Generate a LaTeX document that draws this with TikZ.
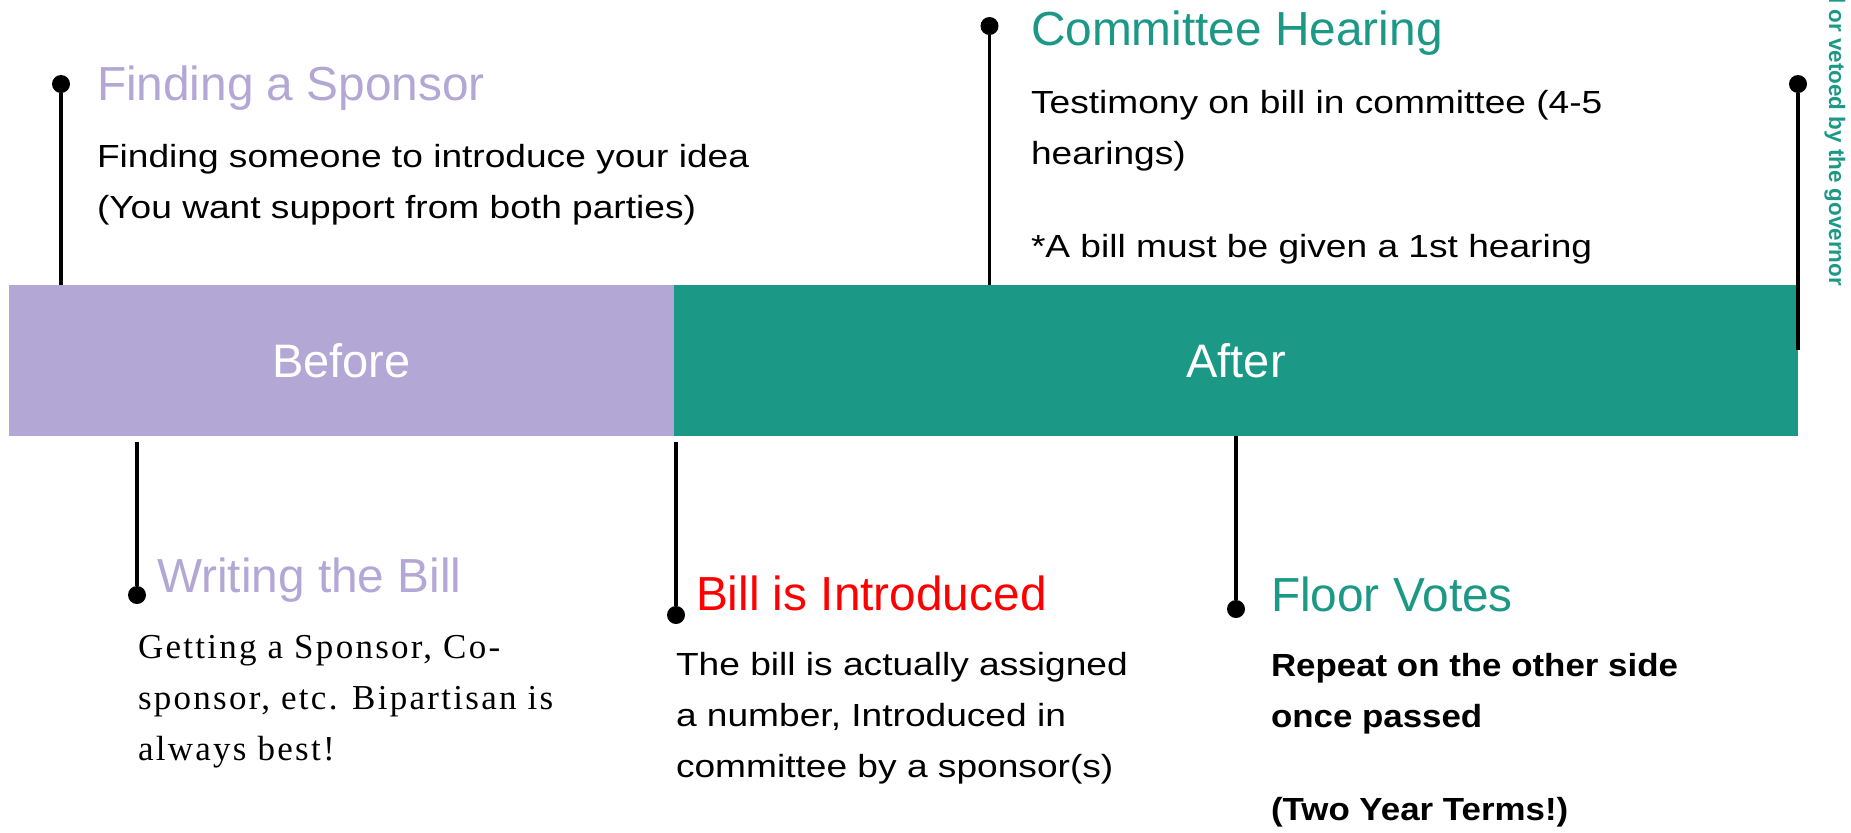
\documentclass[tikz,border=0pt]{standalone}
\usepackage{fontspec}
\setmainfont{Liberation Sans}
\newfontfamily\bodyfont[FakeStretch=1.16]{Liberation Sans}
\newfontfamily\votefont[FakeStretch=1.09]{Liberation Sans}
\newfontfamily\billfont[LetterSpace=6.5]{Liberation Serif}
\usetikzlibrary{positioning}
\definecolor{billlilac}{HTML}{B3A7D6}
\definecolor{billteal}{HTML}{1B9886}
\definecolor{billred}{HTML}{FF0000}
\tikzset{
  every node/.style={inner sep=0pt, outer sep=0pt},
  every path/.style={line width=1.6pt},
  tickdot/.style={circle, fill=black, minimum size=9pt},
  title/.style={anchor=base west, font=\fontsize{23.9}{28}\selectfont},
  body/.style={anchor=base west, font=\bodyfont\fontsize{16}{25.5}\selectfont},
  phase/.style={minimum height=75.5pt, text=white, font=\fontsize{23.5}{28}\selectfont}
}
\newcommand{\lines}[1]{\begin{tabular}[t]{@{}l@{}}#1\end{tabular}}

\begin{document}
\begin{tikzpicture}[x=0.5pt, y=-0.5pt]
  \useasboundingbox (0,0) rectangle (1851,832);
  % Bar
  \node (before) [phase, fill=billlilac, minimum width=332.5pt] at (341.5,360.5) {Before};
  \node (after) [phase, fill=billteal, minimum width=562pt] at (1236,360.5) {After};

  % Dots
  \node (sponsordot) [tickdot] at (61,84) {};
  \node (hearingdot) [tickdot] at (989.5,26) {};
  \node (governordot) [tickdot] at (1798,84) {};
  \node (writingdot) [tickdot] at (137,595) {};
  \node (introduceddot) [tickdot] at (676,615) {};
  \node (floordot) [tickdot] at (1236,609) {};
  \coordinate (governorend) at (1798,350);

  % Titles
  \node (sponsor) [title, text=billlilac] at (97,100) {Finding a Sponsor};
  \node (hearing) [title, text=billteal] at (1031,45) {Committee Hearing};
  \node (writing) [title, text=billlilac] at (157,592) {Writing the Bill};
  \node (introduced) [title, text=billred] at (696,610) {Bill is Introduced};
  \node (floor) [title, text=billteal] at (1271,611) {Floor Votes};
  \node (governor) [rotate=-90, anchor=base east, text=billteal, font=\bfseries\fontsize{11.2}{13}\selectfont] at (1829,286) {l or vetoed by the governor};

  % Texts
  \node (sponsortext) [body] at (97,167) {\lines{Finding someone to introduce your idea\\ (You want support from both parties)}};
  \node (hearingtext) [body] at (1031,113) {\lines{Testimony on bill in committee (4-5\\ hearings)\\[21pt] *A bill must be given a 1st hearing}};
  \node (writingtext) [body, font=\billfont\fontsize{17.5}{25.5}\selectfont] at (138,658) {\lines{Getting a Sponsor,\ Co-\\ sponsor, etc. Bipartisan is\\ always best!}};
  \node (introducedtext) [body] at (676,675) {\lines{The bill is actually assigned\\ a number, Introduced in\\ committee by a sponsor(s)}};
  \node (floortext) [body, font=\votefont\bfseries\fontsize{16}{25.5}\selectfont] at (1271,676) {\lines{Repeat on the other side\\ once passed\\[21pt] (Two Year Terms!)}};

  % Connectors
  \draw (sponsordot) -- (sponsordot |- before.north);
  \draw (hearingdot) -- (hearingdot |- after.north);
  \draw (governordot) -- (governorend);
  \draw ([yshift=-3pt]writingdot |- before.south) -- (writingdot);
  \draw ([yshift=-3pt]introduceddot |- before.south) -- (introduceddot);
  \draw (floordot |- after.south) -- (floordot);
\end{tikzpicture}
\end{document}
